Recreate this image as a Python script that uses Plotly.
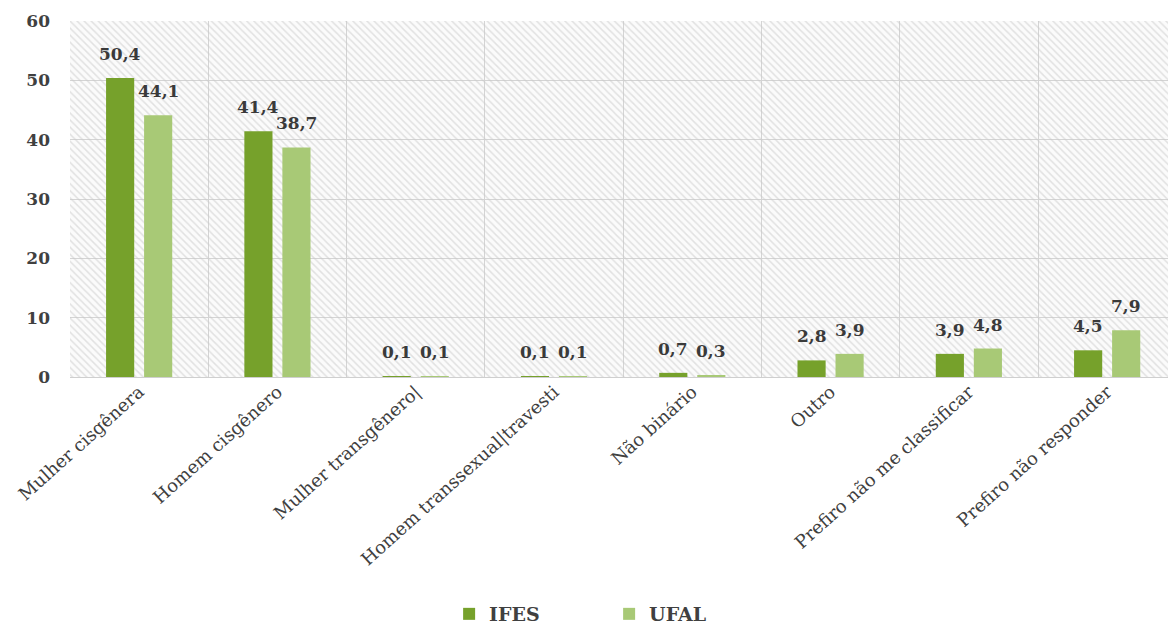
import plotly.graph_objects as go

categories = ["Mulher cisgênera", "Homem cisgênero", "Mulher transgênero|",
              "Homem transsexual|travesti", "Não binário", "Outro",
              "Prefiro não me classificar", "Prefiro não responder"]
ifes = [50.4, 41.4, 0.1, 0.1, 0.7, 2.8, 3.9, 4.5]
ufal = [44.1, 38.7, 0.1, 0.1, 0.3, 3.9, 4.8, 7.9]
y_ticks = [0, 10, 20, 30, 40, 50, 60]

idx = list(range(len(categories)))
ymax = y_ticks[-1]
serif = "DejaVu Serif, Liberation Serif, serif"
xr = [-0.5, len(categories) - 0.56]
bargap = 0.45
bar_off = (1 - bargap) / 4  # centre of each bar within its group, in category units

fig = go.Figure()

# hatched plot background (main axes, drawn beneath the overlay axes)
fig.add_trace(go.Bar(
    x=idx, y=[ymax] * len(idx), width=1, xaxis="x", yaxis="y",
    marker=dict(color="rgba(0,0,0,0)", line=dict(width=0),
                pattern=dict(shape="\\", fgcolor="#c8c8c8", bgcolor="rgba(0,0,0,0)",
                             size=5, solidity=0.3)),
    hoverinfo="skip", showlegend=False))

series = [("IFES", ifes, "#76a12b", -bar_off), ("UFAL", ufal, "#a8c976", bar_off)]
for name, vals, col, off in series:
    fig.add_trace(go.Bar(
        x=idx, y=vals, name=name, xaxis="x2", yaxis="y2",
        marker=dict(color=col, line=dict(width=0)),
    ))
    for i, v in zip(idx, vals):
        fig.add_annotation(
            x=i + off, y=v, xref="x2", yref="y2",
            text=f"{v:.1f}".replace(".", ","), showarrow=False,
            yanchor="bottom", xanchor="center", yshift=12,
            font=dict(family=serif, size=17, color="#3a3a3a", weight="bold"),
        )

fig.update_layout(
    width=1168, height=628,
    margin=dict(l=70, r=0, t=21, b=251, autoexpand=False),
    paper_bgcolor="white", plot_bgcolor="#fbfbfb",
    separators=",.",
    barmode="group", bargap=bargap, bargroupgap=0.26,
    font=dict(family=serif, color="#404040"),
    legend=dict(orientation="h", x=0.491, xanchor="center",
                yref="container", y=1 - 614 / 628, yanchor="middle",
                entrywidth=115, entrywidthmode="pixels",
                font=dict(family=serif, size=19, color="#404040", weight="bold")),
    showlegend=True,
    xaxis=dict(
        range=xr, tickmode="array", tickvals=idx, ticktext=categories,
        tickangle=-42, showgrid=False, zeroline=False, showline=False, ticks="",
        tickfont=dict(family=serif, size=18, color="#404040"),
        minor=dict(tickmode="array", tickvals=[i - 0.5 for i in idx] + [len(idx) - 0.5],
                   showgrid=True, gridcolor="#d4d4d4", gridwidth=1, ticks=""),
    ),
    yaxis=dict(
        range=[0, ymax], tickmode="array", tickvals=y_ticks,
        showgrid=True, gridcolor="#d4d4d4", gridwidth=1,
        zeroline=True, zerolinecolor="#cfcfcf", zerolinewidth=1,
        tickfont=dict(family=serif, size=17, color="#404040", weight="bold"),
        ticklabelstandoff=19,
    ),
    xaxis2=dict(overlaying="x", matches="x", visible=False),
    yaxis2=dict(overlaying="y", matches="y", visible=False),
)

fig.write_html("out.html", config={"displayModeBar": False},
               post_script="document.body.style.margin='0px';")
